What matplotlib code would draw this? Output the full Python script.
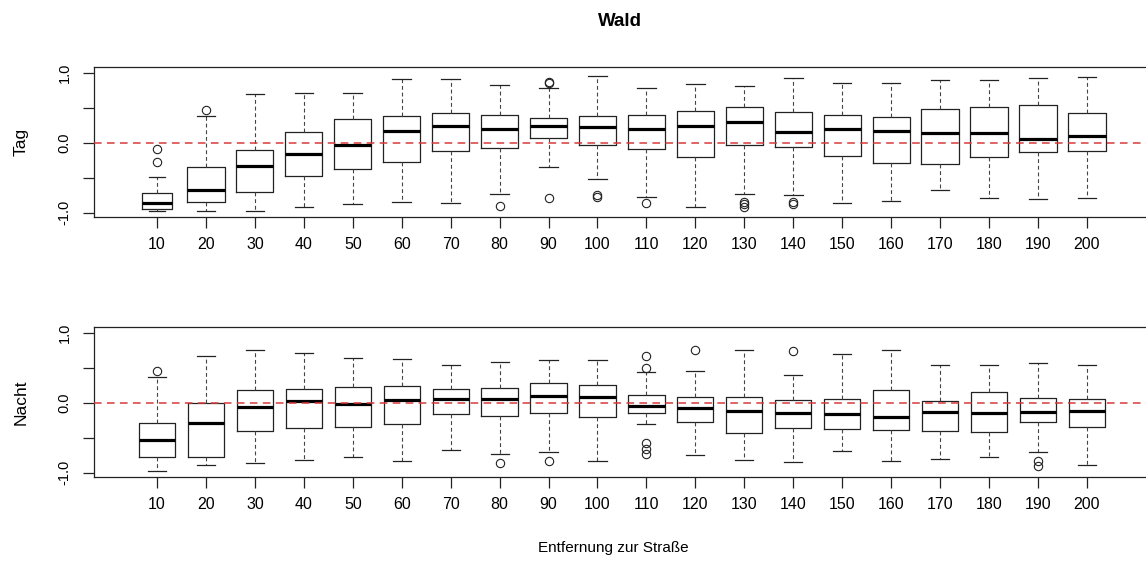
import numpy as np
import matplotlib.pyplot as plt

plt.rcParams['font.family'] = ['Liberation Sans', 'DejaVu Sans']

distances = [10, 20, 30, 40, 50, 60, 70, 80, 90, 100,
             110, 120, 130, 140, 150, 160, 170, 180, 190, 200]

# Tag
tag_med = [-0.867, -0.676, -0.338, -0.162, -0.033, 0.162, 0.238, 0.195, 0.243, 0.224,
           0.19, 0.238, 0.30, 0.157, 0.20, 0.162, 0.138, 0.138, 0.052, 0.09]
tag_q1 = [-0.943, -0.852, -0.70, -0.476, -0.376, -0.276, -0.114, -0.076, 0.067, -0.029,
          -0.095, -0.205, -0.029, -0.062, -0.195, -0.286, -0.31, -0.21, -0.133, -0.114]
tag_q3 = [-0.724, -0.343, -0.10, 0.148, 0.343, 0.376, 0.429, 0.39, 0.357, 0.376,
          0.395, 0.452, 0.505, 0.438, 0.40, 0.362, 0.486, 0.51, 0.543, 0.419]
tag_lo = [-0.981, -0.981, -0.981, -0.924, -0.876, -0.843, -0.862, -0.733, -0.352, -0.524,
          -0.771, -0.919, -0.733, -0.743, -0.867, -0.829, -0.681, -0.79, -0.80, -0.79]
tag_hi = [-0.486, 0.376, 0.69, 0.705, 0.705, 0.905, 0.905, 0.824, 0.786, 0.952,
          0.786, 0.838, 0.805, 0.924, 0.852, 0.857, 0.89, 0.89, 0.924, 0.943]
tag_out = [[-0.086, -0.276], [0.467], [], [], [], [], [], [-0.905], [0.867, 0.848, -0.79],
           [-0.752, -0.781], [-0.867], [], [-0.843, -0.876, -0.914], [-0.852, -0.876],
           [], [], [], [], [], []]

# Nacht
nacht_med = [-0.533, -0.29, -0.062, 0.029, -0.024, 0.033, 0.052, 0.057, 0.095, 0.076,
             -0.043, -0.071, -0.124, -0.143, -0.157, -0.21, -0.129, -0.143, -0.133, -0.114]
nacht_q1 = [-0.781, -0.781, -0.41, -0.367, -0.348, -0.31, -0.162, -0.195, -0.143, -0.20,
            -0.152, -0.271, -0.438, -0.357, -0.381, -0.395, -0.40, -0.424, -0.271, -0.348]
nacht_q3 = [-0.295, 0.0, 0.181, 0.19, 0.219, 0.238, 0.20, 0.21, 0.276, 0.257,
            0.105, 0.076, 0.076, 0.043, 0.057, 0.181, 0.024, 0.148, 0.071, 0.048]
nacht_lo = [-0.971, -0.89, -0.862, -0.819, -0.781, -0.838, -0.676, -0.733, -0.70, -0.829,
            -0.311, -0.752, -0.819, -0.852, -0.69, -0.838, -0.80, -0.781, -0.70, -0.895]
nacht_hi = [0.362, 0.671, 0.752, 0.705, 0.643, 0.624, 0.538, 0.576, 0.61, 0.614,
            0.438, 0.452, 0.752, 0.39, 0.69, 0.757, 0.533, 0.533, 0.571, 0.533]
nacht_out = [[0.452], [], [], [], [], [], [], [-0.857], [-0.829], [],
             [0.671, 0.49, -0.576, -0.657, -0.738], [0.752], [], [0.733], [], [], [], [],
             [-0.829, -0.905], []]

W, H = 1146, 561
fig = plt.figure(figsize=(W / 100, H / 100), dpi=100)

ink = '#222222'


def panel(top_px, med, q1, q3, lo, hi, out, label, widths):
    ax = fig.add_axes([94 / W, 1 - (top_px + 150) / H, (1152 - 94) / W, 150 / H])
    stats = [dict(med=m, q1=a, q3=b, whislo=l, whishi=h, fliers=f)
             for m, a, b, l, h, f in zip(med, q1, q3, lo, hi, out)]
    ax.axhline(0, color='#d83a3a', lw=1.1, dashes=(5, 3.5), zorder=3)
    ax.bxp(stats, positions=distances, widths=widths,
           capwidths=[w * 0.5 for w in widths], manage_ticks=False,
           boxprops=dict(color=ink, lw=0.9),
           medianprops=dict(color='black', lw=2.3, solid_capstyle='butt'),
           whiskerprops=dict(color='#444444', lw=0.8, dashes=(3.5, 2.5)),
           capprops=dict(color=ink, lw=0.9),
           flierprops=dict(marker='o', markersize=6, markerfacecolor='none',
                           markeredgecolor=ink, markeredgewidth=0.8))
    ax.set_xlim(-2.87, 213.3)
    ax.set_ylim(-1.066, 1.077)
    ax.set_xticks(distances)
    ax.set_xticklabels([str(d) for d in distances], fontsize=11.5)
    ax.set_yticks([-1, -0.5, 0, 0.5, 1])
    ax.set_yticklabels(['-1.0', '', '0.0', '', '1.0'], rotation=90, va='center',
                       fontsize=10.5)
    ax.tick_params(axis='both', length=8, width=0.9, color=ink)
    ax.tick_params(axis='x', pad=6)
    ax.tick_params(axis='y', pad=8)
    for s in ax.spines.values():
        s.set_linewidth(0.9)
        s.set_color(ink)
    fig.text(21 / W, 1 - (top_px + 75) / H, label, rotation=90,
             ha='center', va='center', fontsize=12.5)
    return ax


w_tag = [6.3] + [7.6] * 19
w_nacht = [7.4] * 20
panel(67.3, tag_med, tag_q1, tag_q3, tag_lo, tag_hi, tag_out, 'Tag', w_tag)
panel(327.3, nacht_med, nacht_q1, nacht_q3, nacht_lo, nacht_hi, nacht_out, 'Nacht', w_nacht)

fig.text(620 / W, 1 - 22 / H, 'Wald', ha='center', va='center',
         fontsize=13.5, fontweight='bold')
fig.text(613 / W, 1 - 548 / H, 'Entfernung zur Straße', ha='center', va='center',
         fontsize=11)

fig.savefig('out.png', dpi=100)
